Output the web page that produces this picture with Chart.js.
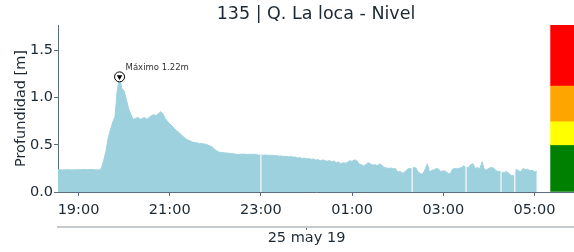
<!DOCTYPE html>
<html>
<head>
<meta charset="utf-8">
<style>html,body{margin:0;padding:0;background:#fff;}</style>
</head>
<body>
<canvas id="canvas" width="574" height="252"></canvas>
<script src="https://cdn.jsdelivr.net/npm/chart.js"></script>
<script>
// sampling: one reading every 3 minutes from 18:33
const startTime = '18:33';
const stepMinutes = 3;
const depth = [
    0.235,0.236,0.234,0.235,0.236,0.235,0.234,0.235,0.236,0.237,0.236,0.238,0.238,0.237,0.239,0.238,0.236,0.235,0.233,
    0.25,0.33,0.43,0.57,0.66,0.74,0.80,
    1.08,1.22,1.10,1.07,0.98,0.88,0.82,0.77,
    0.78,0.79,0.77,0.78,0.79,0.77,0.79,0.81,0.82,0.81,0.83,0.85,0.83,
    0.78,0.75,0.72,0.70,0.67,0.65,0.63,0.61,0.585,0.565,0.55,0.54,0.53,0.525,0.52,0.515,0.513,0.51,0.505,0.495,0.485,0.47,
    0.445,0.43,0.42,0.418,0.415,0.413,0.41,0.408,0.405,0.40,0.398,
    0.40,0.402,0.40,0.398,0.40,0.399,0.40,0.397,0.39,0.395,0.39,
    0.392,0.39,0.388,0.39,0.387,0.385,0.38,0.382,0.376,0.378,0.372,0.375,0.37,0.372,
    0.36,0.365,0.355,0.36,0.352,0.355,0.345,0.35,0.338,0.345,0.33,0.34,0.335,0.325,0.333,0.32,0.328,0.31,0.318,0.30,0.31,0.305,0.315,
    0.33,0.325,0.34,0.335,0.30,0.29,0.278,0.29,0.31,0.30,0.285,0.29,0.28,0.295,0.285,0.26,0.255,0.25,0.255,0.245,0.25,0.21,0.22,0.20,0.21,0.235,0.25,0.245,
    0.26,0.255,0.21,0.195,0.19,0.24,0.30,0.21,0.23,0.235,0.25,0.24,0.215,0.225,0.22,0.20,0.19,0.24,0.25,0.245,0.25,0.26,0.277,0.26,
    0.26,0.29,0.30,0.25,0.26,0.245,0.32,0.24,0.235,0.25,0.26,0.255,0.23,0.215,0.22,0.205,0.21,0.215,0.19,0.175,0.17,0.24,0.225,0.215,0.25,0.235,0.24,0.225,0.23,0.215,0.22
];
// missing readings (thin white breaks in the area)
const gapTimes = ['23:00', '02:19', '03:30', '04:16', '04:34'];

const xTicks = ['19:00', '21:00', '23:00', '01:00', '03:00', '05:00'];
const dateTicks = ['00:00'];
const dateLabels = ['25 may 19'];
const yTicks = [0, 0.5, 1.0, 1.5];

// alert levels shown as the coloured column at the right
const levelBounds = [0, 0.5, 0.75, 1.13, 1.77];
const levelColors = ['#008000', '#ffff00', '#ffa500', '#ff0000'];
const levelTime = '05:37';

const axisStart = '18:33';
const axisEnd = '05:52';

const textColor = '#1c2833';
const spineColor = '#5d6d7e';
const fillColor = '#9ed1de';

function toHours(s) {
    let [h, m] = s.split(':').map(Number);
    if (h < 12) h += 24;
    return h + m / 60;
}

const t0 = toHours(startTime);
const points = depth.map((v, i) => ({x: t0 + i * stepMinutes / 60, y: v}));

let peakIdx = 0;
depth.forEach((v, i) => { if (v > depth[peakIdx]) peakIdx = i; });
const peak = points[peakIdx];

const levelData = levelColors.map((c, i) => ({x: toHours(levelTime), y: [levelBounds[i], levelBounds[i + 1]]}));

const gapPlugin = {
    id: 'gaps',
    afterDatasetsDraw(chart) {
        const ctx = chart.ctx, xs = chart.scales.x, ys = chart.scales.y;
        ctx.save();
        ctx.strokeStyle = 'rgba(255,255,255,0.85)';
        ctx.lineWidth = 1.3;
        gapTimes.forEach(g => {
            const px = xs.getPixelForValue(toHours(g));
            ctx.beginPath();
            ctx.moveTo(px, chart.chartArea.top);
            ctx.lineTo(px, ys.getPixelForValue(0));
            ctx.stroke();
        });
        ctx.restore();
    }
};

const peakLabel = {
    id: 'peakLabel',
    afterDraw(chart) {
        const ctx = chart.ctx;
        const px = chart.scales.x.getPixelForValue(peak.x);
        const py = chart.scales.y.getPixelForValue(peak.y);
        ctx.save();
        ctx.font = '8.5px "DejaVu Sans"';
        ctx.fillStyle = '#333';
        ctx.textBaseline = 'middle';
        ctx.fillText('Máximo ' + peak.y.toFixed(2) + 'm', px + 6, py - 9);
        ctx.restore();
    }
};

Chart.defaults.font.family = '"DejaVu Sans"';
Chart.defaults.color = textColor;

new Chart(document.getElementById('canvas'), {
    type: 'line',
    data: {
        datasets: [
            {
                data: [peak], showLine: false, pointStyle: 'triangle', rotation: 180,
                pointRadius: 3.2, pointBackgroundColor: '#000', pointBorderWidth: 0, order: 0
            },
            {
                data: [peak], showLine: false, pointStyle: 'circle',
                pointRadius: 5, pointBackgroundColor: '#fff', pointBorderColor: '#000', pointBorderWidth: 1, order: 1
            },
            {
                data: points, fill: 'origin', backgroundColor: fillColor, borderColor: fillColor,
                borderWidth: 1, pointRadius: 0, tension: 0, order: 2
            },
            {
                type: 'bar', data: levelData, backgroundColor: levelColors,
                barThickness: 24, borderWidth: 0, order: 3
            }
        ]
    },
    options: {
        responsive: false,
        animation: false,
        devicePixelRatio: 1,
        layout: {padding: 0, autoPadding: false},
        plugins: {
            legend: {display: false},
            tooltip: {enabled: false},
            title: {
                display: true, text: '135 | Q. La loca - Nivel', fullSize: false,
                font: {size: 17.5, weight: 'normal'}, color: textColor,
                padding: {top: 4, bottom: 0}
            }
        },
        scales: {
            x: {
                type: 'linear', position: 'bottom', offset: false,
                min: toHours(axisStart), max: toHours(axisEnd),
                afterBuildTicks: s => { s.ticks = xTicks.map(t => ({value: toHours(t)})); },
                ticks: {
                    callback: (v, i) => xTicks[i], font: {size: 14.5}, color: textColor,
                    padding: 6, maxRotation: 0, autoSkip: false
                },
                grid: {drawOnChartArea: false, drawTicks: true, tickLength: 4, color: spineColor, offset: false},
                border: {color: spineColor, width: 1},
                afterFit: s => { s.height = 35; }
            },
            x2: {
                type: 'linear', position: 'bottom', offset: false,
                min: toHours(axisStart), max: toHours(axisEnd),
                afterBuildTicks: s => { s.ticks = dateTicks.map(t => ({value: toHours(t)})); },
                ticks: {
                    callback: (v, i) => dateLabels[i], font: {size: 14.5}, color: textColor,
                    padding: 0, maxRotation: 0, autoSkip: false
                },
                grid: {drawOnChartArea: false, drawTicks: true, tickLength: 3, color: spineColor},
                border: {color: '#c5cacf', width: 2},
                afterFit: s => { s.height = 25; }
            },
            y: {
                type: 'linear', position: 'left',
                min: levelBounds[0], max: levelBounds[levelBounds.length - 1],
                afterBuildTicks: s => { s.ticks = yTicks.map(v => ({value: v})); },
                ticks: {callback: v => v.toFixed(1), font: {size: 14.5}, color: textColor, padding: 1},
                grid: {drawOnChartArea: false, drawTicks: true, tickLength: 4, color: spineColor},
                border: {color: spineColor, width: 1},
                title: {
                    display: true, text: 'Profundidad [m]', font: {size: 14.5}, color: textColor,
                    padding: {top: 12.5, bottom: 0}
                },
                afterFit: s => { s.width = 58; }
            }
        }
    },
    plugins: [gapPlugin, peakLabel]
});
</script>
</body>
</html>
